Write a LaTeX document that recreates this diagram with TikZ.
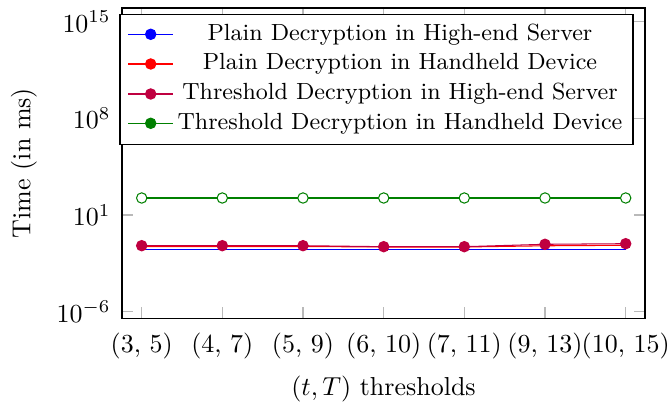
\documentclass[tikz,border=0pt]{standalone}
\usetikzlibrary{positioning}
\begin{document}
\begin{tikzpicture}[x = 0.385pt, y = -0.385pt, line width = 0.4pt,
    tickmark/.style = {draw = gray!55},
    ball/.style = {circle, inner sep = 0pt, minimum size = 4pt, fill = #1, draw = #1},
    ring/.style = {circle, inner sep = 0pt, minimum size = 4pt, fill = white, draw = #1},
    entry/.style = {font = \small, text = black}]
  \useasboundingbox (0,0) rectangle (672,406);

  % axis corners
  \coordinate (sw) at (122,318.5);
  \coordinate (ne) at (645,8);

  % ticks on all four sides, labels below and left
  \foreach \px/\lab [count=\i] in {141.7/{(3, 5)}, 222.3/{(4, 7)}, 303/{(5, 9)},
      383.7/{(6, 10)}, 464.3/{(7, 11)}, 545/{(9, 13)}, 625.7/{(10, 15)}} {
    \draw[tickmark] (\px,318.5) -- ++(0,-11) (\px,8) -- ++(0,11);
    \node (x\i) at (\px,346.5) {\lab};
  }
  \foreach \py/\e in {21.8/15, 118.4/8, 215/1, 311.6/-6} {
    \draw[tickmark] (122,\py) -- ++(11,0) (645,\py) -- ++(-11,0);
    \node[anchor = east, inner sep = 0pt] (y\e) at (111,\py) {$10^{\e}$};
  }
  \draw (sw) rectangle (ne);

  \node (xlabel) at (383.5,389) {$(t, T)$ thresholds};
  \node[rotate = 90] (ylabel) at (24,163) {Time (in ms)};

  % measured times
  \foreach \px/\g/\b/\r/\p [count=\i] in {141.7/198/249.3/246.5/245.7, 222.3/198/249.3/246.5/245.7,
      303/198/249.3/246.5/245.7, 383.7/198/249.3/247/246.7, 464.3/198/249.3/247/246.7,
      545/198/249.3/245.8/244.3, 625.7/198/249.3/245.3/243.7} {
    \coordinate (g\i) at (\px,\g);
    \coordinate (b\i) at (\px,\b);
    \coordinate (r\i) at (\px,\r);
    \coordinate (p\i) at (\px,\p);
  }
  \draw[blue] (b1) \foreach \i in {2,...,7} { -- (b\i) };
  \draw[red] (r1) \foreach \i in {2,...,7} { -- (r\i) };
  \draw[purple] (p1) \foreach \i in {2,...,7} { -- (p\i) };
  \draw[green!50!black] (g1) \foreach \i in {2,...,7} { -- (g\i) };
  \foreach \i in {1,...,7} {
    \node[ball = purple] (pm\i) at (p\i) {};
    \node[ring = green!50!black] (gm\i) at (g\i) {};
  }

  % legend
  \node[draw, fill = white, inner sep = 0pt, minimum width = 197.5pt, minimum height = 49.7pt] (legend) at (376.5,79.5) {};
  \foreach \py/\col/\txt [count=\i] in {34.3/blue/Plain Decryption in High-end Server,
      64/red/Plain Decryption in Handheld Device,
      94/purple/Threshold Decryption in High-end Server,
      123.3/green!50!black/Threshold Decryption in Handheld Device} {
    \coordinate (la\i) at (128,\py);
    \coordinate (lb\i) at (173,\py);
    \draw[\col] (la\i) -- (lb\i);
    \node[ball = \col] (lm\i) at (150.7,\py) {};
    \node[entry] (lt\i) at (400,\py) {\txt};
  }
\end{tikzpicture}
\end{document}
